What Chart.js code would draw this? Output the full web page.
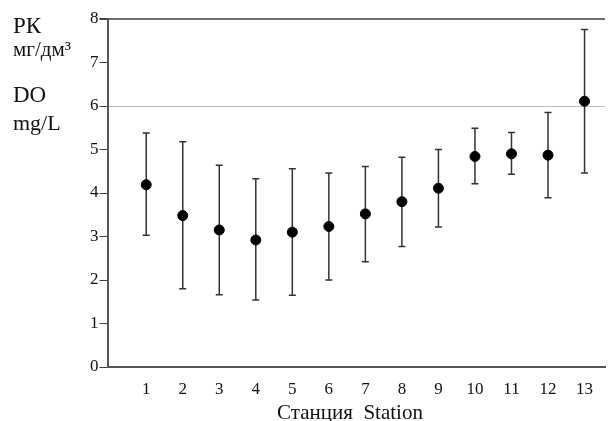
<!DOCTYPE html>
<html>
<head>
<meta charset="utf-8">
<script src="https://cdn.jsdelivr.net/npm/chart.js@4"></script>
<style>
  html, body { margin: 0; padding: 0; background: #fff; }
  #wrap { width: 611px; height: 421px; }
</style>
</head>
<body>
<div id="wrap"><canvas id="chart" width="611" height="421"></canvas></div>
<script>
// stations and dissolved oxygen values
const stations = [1, 2, 3, 4, 5, 6, 7, 8, 9, 10, 11, 12, 13];
const meanDO = [4.19, 3.48, 3.15, 2.92, 3.10, 3.23, 3.52, 3.80, 4.11, 4.84, 4.90, 4.87, 6.11];
const upperDO = [5.38, 5.18, 4.64, 4.33, 4.56, 4.46, 4.61, 4.82, 5.00, 5.49, 5.39, 5.85, 7.76];
const lowerDO = [3.03, 1.80, 1.66, 1.54, 1.65, 2.00, 2.42, 2.77, 3.22, 4.21, 4.43, 3.89, 4.46];
const yTicks = [0, 1, 2, 3, 4, 5, 6, 7, 8];
const normLevel = 6;

const serif = '"Liberation Serif", "Times New Roman", serif';

// whiskers drawn under the points
const errorBars = {
  id: 'errorBars',
  beforeDatasetsDraw(chart) {
    const ctx = chart.ctx;
    const xs = chart.scales.x, ys = chart.scales.y;
    ctx.save();
    ctx.strokeStyle = '#333';
    ctx.lineWidth = 1.5;
    stations.forEach((s, i) => {
      const x = xs.getPixelForValue(s);
      const top = ys.getPixelForValue(upperDO[i]);
      const bot = ys.getPixelForValue(lowerDO[i]);
      ctx.beginPath();
      ctx.moveTo(x, top); ctx.lineTo(x, bot);
      ctx.moveTo(x - 3.5, top); ctx.lineTo(x + 3.5, top);
      ctx.moveTo(x - 3.5, bot); ctx.lineTo(x + 3.5, bot);
      ctx.stroke();
    });
    ctx.restore();
  }
};

// unit labels to the left of the axis and the station caption below
const textLabels = {
  id: 'textLabels',
  afterDraw(chart) {
    const ctx = chart.ctx;
    ctx.save();
    ctx.fillStyle = '#111';
    ctx.textAlign = 'left';
    ctx.textBaseline = 'alphabetic';
    ctx.font = '23px ' + serif;
    ctx.fillText('РК', 13, 33);
    ctx.font = '21px ' + serif;
    ctx.fillText('мг/дм³', 13, 56);
    ctx.font = '23px ' + serif;
    ctx.fillText('DO', 13, 102);
    ctx.font = '22px ' + serif;
    ctx.fillText('mg/L', 13, 130);
    ctx.font = '21px ' + serif;
    ctx.textAlign = 'center';
    ctx.fillText('Станция  Station', 350, 419);
    ctx.restore();
  }
};

new Chart(document.getElementById('chart'), {
  type: 'scatter',
  data: {
    datasets: [{
      data: stations.map((s, i) => ({ x: s, y: meanDO[i] })),
      backgroundColor: '#000',
      borderColor: '#000',
      pointRadius: 5,
      pointHoverRadius: 5
    }]
  },
  options: {
    responsive: false,
    animation: false,
    layout: { padding: { left: 89, top: 19, right: 0, bottom: 9 } },
    plugins: {
      legend: { display: false },
      tooltip: { enabled: false }
    },
    scales: {
      x: {
        type: 'linear',
        min: -0.06,
        max: 13.56,
        afterBuildTicks: (scale) => { scale.ticks = stations.map(v => ({ value: v })); },
        afterFit: (scale) => { scale.paddingLeft = 0; scale.paddingRight = 0; },
        grid: { display: false, drawTicks: false },
        border: { display: true, color: '#555', width: 2 },
        ticks: { color: '#111', font: { family: serif, size: 17, lineHeight: 1 }, padding: 14, maxRotation: 0 }
      },
      y: {
        min: 0,
        max: 8,
        afterBuildTicks: (scale) => { scale.ticks = yTicks.map(v => ({ value: v })); },
        grid: {
          color: (c) => c.tick && c.tick.value === normLevel ? '#bdbdbd' : (c.tick && c.tick.value === 8 ? '#707070' : 'rgba(0,0,0,0)'),
          lineWidth: (c) => c.tick && c.tick.value === 8 ? 2 : 1,
          drawTicks: true,
          tickLength: 8,
          tickColor: '#444'
        },
        border: { display: true, color: '#555', width: 2 },
        ticks: { color: '#111', font: { family: serif, size: 17 }, padding: 1 }
      }
    }
  },
  plugins: [errorBars, textLabels]
});
</script>
</body>
</html>
